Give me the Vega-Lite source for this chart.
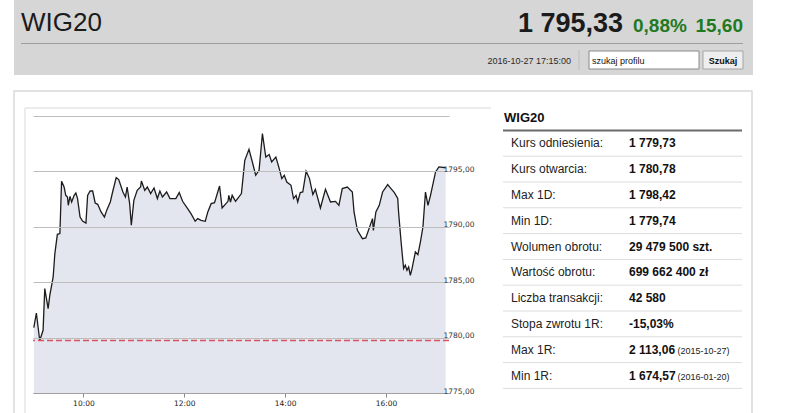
{
  "$schema": "https://vega.github.io/schema/vega-lite/v6.json",
  "background": "#ffffff",
  "padding": {"left": 13, "top": 0, "right": 0, "bottom": 0},
  "bounds": "flush",
  "spacing": 41,
  "config": {
    "view": {"stroke": null},
    "text": {"font": "Liberation Sans"}
  },
  "datasets": {
    "notowania": [
      {"czas": "2016-10-27T09:01:00", "kurs": 1780.90},
      {"czas": "2016-10-27T09:04:00", "kurs": 1782.22},
      {"czas": "2016-10-27T09:08:00", "kurs": 1779.74},
      {"czas": "2016-10-27T09:12:00", "kurs": 1780.66},
      {"czas": "2016-10-27T09:14:00", "kurs": 1784.42},
      {"czas": "2016-10-27T09:18:00", "kurs": 1782.62},
      {"czas": "2016-10-27T09:20:00", "kurs": 1783.82},
      {"czas": "2016-10-27T09:24:00", "kurs": 1785.47},
      {"czas": "2016-10-27T09:26:00", "kurs": 1787.58},
      {"czas": "2016-10-27T09:29:00", "kurs": 1789.32},
      {"czas": "2016-10-27T09:32:00", "kurs": 1789.39},
      {"czas": "2016-10-27T09:34:00", "kurs": 1794.11},
      {"czas": "2016-10-27T09:37:00", "kurs": 1793.59},
      {"czas": "2016-10-27T09:39:00", "kurs": 1792.84},
      {"czas": "2016-10-27T09:41:00", "kurs": 1792.69},
      {"czas": "2016-10-27T09:42:00", "kurs": 1791.94},
      {"czas": "2016-10-27T09:44:00", "kurs": 1792.75},
      {"czas": "2016-10-27T09:46:00", "kurs": 1792.24},
      {"czas": "2016-10-27T09:49:00", "kurs": 1792.84},
      {"czas": "2016-10-27T09:51:00", "kurs": 1793.05},
      {"czas": "2016-10-27T09:53:00", "kurs": 1792.55},
      {"czas": "2016-10-27T09:56:00", "kurs": 1790.88},
      {"czas": "2016-10-27T09:59:00", "kurs": 1790.52},
      {"czas": "2016-10-27T10:03:00", "kurs": 1790.34},
      {"czas": "2016-10-27T10:05:00", "kurs": 1792.84},
      {"czas": "2016-10-27T10:08:00", "kurs": 1793.23},
      {"czas": "2016-10-27T10:11:00", "kurs": 1793.23},
      {"czas": "2016-10-27T10:14:00", "kurs": 1792.15},
      {"czas": "2016-10-27T10:17:00", "kurs": 1792.03},
      {"czas": "2016-10-27T10:21:00", "kurs": 1791.34},
      {"czas": "2016-10-27T10:25:00", "kurs": 1790.88},
      {"czas": "2016-10-27T10:28:00", "kurs": 1791.55},
      {"czas": "2016-10-27T10:32:00", "kurs": 1792.24},
      {"czas": "2016-10-27T10:35:00", "kurs": 1793.23},
      {"czas": "2016-10-27T10:39:00", "kurs": 1794.44},
      {"czas": "2016-10-27T10:42:00", "kurs": 1794.26},
      {"czas": "2016-10-27T10:45:00", "kurs": 1793.59},
      {"czas": "2016-10-27T10:47:00", "kurs": 1793.14},
      {"czas": "2016-10-27T10:50:00", "kurs": 1792.69},
      {"czas": "2016-10-27T10:52:00", "kurs": 1793.59},
      {"czas": "2016-10-27T10:55:00", "kurs": 1792.09},
      {"czas": "2016-10-27T10:57:00", "kurs": 1790.14},
      {"czas": "2016-10-27T11:00:00", "kurs": 1792.39},
      {"czas": "2016-10-27T11:04:00", "kurs": 1793.29},
      {"czas": "2016-10-27T11:08:00", "kurs": 1793.59},
      {"czas": "2016-10-27T11:09:00", "kurs": 1794.13},
      {"czas": "2016-10-27T11:13:00", "kurs": 1793.29},
      {"czas": "2016-10-27T11:16:00", "kurs": 1793.59},
      {"czas": "2016-10-27T11:20:00", "kurs": 1793.00},
      {"czas": "2016-10-27T11:24:00", "kurs": 1793.50},
      {"czas": "2016-10-27T11:28:00", "kurs": 1792.55},
      {"czas": "2016-10-27T11:31:00", "kurs": 1793.23},
      {"czas": "2016-10-27T11:34:00", "kurs": 1792.69},
      {"czas": "2016-10-27T11:39:00", "kurs": 1793.14},
      {"czas": "2016-10-27T11:43:00", "kurs": 1792.55},
      {"czas": "2016-10-27T11:50:00", "kurs": 1792.55},
      {"czas": "2016-10-27T11:54:00", "kurs": 1793.09},
      {"czas": "2016-10-27T11:58:00", "kurs": 1792.30},
      {"czas": "2016-10-27T12:04:00", "kurs": 1791.64},
      {"czas": "2016-10-27T12:08:00", "kurs": 1791.19},
      {"czas": "2016-10-27T12:13:00", "kurs": 1790.50},
      {"czas": "2016-10-27T12:16:00", "kurs": 1790.74},
      {"czas": "2016-10-27T12:20:00", "kurs": 1790.59},
      {"czas": "2016-10-27T12:25:00", "kurs": 1790.50},
      {"czas": "2016-10-27T12:28:00", "kurs": 1791.34},
      {"czas": "2016-10-27T12:32:00", "kurs": 1792.09},
      {"czas": "2016-10-27T12:36:00", "kurs": 1792.18},
      {"czas": "2016-10-27T12:42:00", "kurs": 1793.68},
      {"czas": "2016-10-27T12:45:00", "kurs": 1791.70},
      {"czas": "2016-10-27T12:52:00", "kurs": 1792.30},
      {"czas": "2016-10-27T12:53:00", "kurs": 1792.84},
      {"czas": "2016-10-27T12:55:00", "kurs": 1792.24},
      {"czas": "2016-10-27T12:57:00", "kurs": 1792.84},
      {"czas": "2016-10-27T13:01:00", "kurs": 1792.30},
      {"czas": "2016-10-27T13:08:00", "kurs": 1793.00},
      {"czas": "2016-10-27T13:12:00", "kurs": 1796.00},
      {"czas": "2016-10-27T13:17:00", "kurs": 1796.99},
      {"czas": "2016-10-27T13:21:00", "kurs": 1795.85},
      {"czas": "2016-10-27T13:25:00", "kurs": 1794.65},
      {"czas": "2016-10-27T13:29:00", "kurs": 1795.10},
      {"czas": "2016-10-27T13:33:00", "kurs": 1798.42},
      {"czas": "2016-10-27T13:37:00", "kurs": 1796.30},
      {"czas": "2016-10-27T13:41:00", "kurs": 1796.52},
      {"czas": "2016-10-27T13:44:00", "kurs": 1795.85},
      {"czas": "2016-10-27T13:49:00", "kurs": 1796.30},
      {"czas": "2016-10-27T13:53:00", "kurs": 1795.25},
      {"czas": "2016-10-27T13:56:00", "kurs": 1794.35},
      {"czas": "2016-10-27T13:59:00", "kurs": 1794.65},
      {"czas": "2016-10-27T14:02:00", "kurs": 1794.04},
      {"czas": "2016-10-27T14:07:00", "kurs": 1793.75},
      {"czas": "2016-10-27T14:10:00", "kurs": 1792.55},
      {"czas": "2016-10-27T14:13:00", "kurs": 1792.84},
      {"czas": "2016-10-27T14:15:00", "kurs": 1792.24},
      {"czas": "2016-10-27T14:18:00", "kurs": 1793.09},
      {"czas": "2016-10-27T14:21:00", "kurs": 1793.14},
      {"czas": "2016-10-27T14:25:00", "kurs": 1795.01},
      {"czas": "2016-10-27T14:29:00", "kurs": 1794.35},
      {"czas": "2016-10-27T14:33:00", "kurs": 1792.91},
      {"czas": "2016-10-27T14:36:00", "kurs": 1793.38},
      {"czas": "2016-10-27T14:42:00", "kurs": 1791.70},
      {"czas": "2016-10-27T14:48:00", "kurs": 1793.38},
      {"czas": "2016-10-27T14:54:00", "kurs": 1792.24},
      {"czas": "2016-10-27T15:00:00", "kurs": 1792.30},
      {"czas": "2016-10-27T15:04:00", "kurs": 1791.94},
      {"czas": "2016-10-27T15:08:00", "kurs": 1793.45},
      {"czas": "2016-10-27T15:14:00", "kurs": 1793.59},
      {"czas": "2016-10-27T15:20:00", "kurs": 1793.14},
      {"czas": "2016-10-27T15:22:00", "kurs": 1791.34},
      {"czas": "2016-10-27T15:26:00", "kurs": 1789.68},
      {"czas": "2016-10-27T15:32:00", "kurs": 1788.93},
      {"czas": "2016-10-27T15:36:00", "kurs": 1788.99},
      {"czas": "2016-10-27T15:44:00", "kurs": 1790.74},
      {"czas": "2016-10-27T15:45:00", "kurs": 1789.68},
      {"czas": "2016-10-27T15:48:00", "kurs": 1791.34},
      {"czas": "2016-10-27T15:52:00", "kurs": 1791.94},
      {"czas": "2016-10-27T15:56:00", "kurs": 1793.14},
      {"czas": "2016-10-27T16:00:00", "kurs": 1793.59},
      {"czas": "2016-10-27T16:02:00", "kurs": 1793.81},
      {"czas": "2016-10-27T16:06:00", "kurs": 1793.45},
      {"czas": "2016-10-27T16:10:00", "kurs": 1793.09},
      {"czas": "2016-10-27T16:14:00", "kurs": 1792.55},
      {"czas": "2016-10-27T16:15:00", "kurs": 1791.34},
      {"czas": "2016-10-27T16:18:00", "kurs": 1788.63},
      {"czas": "2016-10-27T16:21:00", "kurs": 1786.23},
      {"czas": "2016-10-27T16:23:00", "kurs": 1786.53},
      {"czas": "2016-10-27T16:25:00", "kurs": 1786.07},
      {"czas": "2016-10-27T16:27:00", "kurs": 1786.37},
      {"czas": "2016-10-27T16:29:00", "kurs": 1785.62},
      {"czas": "2016-10-27T16:31:00", "kurs": 1786.23},
      {"czas": "2016-10-27T16:35:00", "kurs": 1787.73},
      {"czas": "2016-10-27T16:38:00", "kurs": 1787.49},
      {"czas": "2016-10-27T16:41:00", "kurs": 1788.63},
      {"czas": "2016-10-27T16:44:00", "kurs": 1789.98},
      {"czas": "2016-10-27T16:47:00", "kurs": 1793.14},
      {"czas": "2016-10-27T16:50:00", "kurs": 1791.94},
      {"czas": "2016-10-27T16:53:00", "kurs": 1792.84},
      {"czas": "2016-10-27T16:59:00", "kurs": 1794.95},
      {"czas": "2016-10-27T17:03:00", "kurs": 1795.40},
      {"czas": "2016-10-27T17:11:00", "kurs": 1795.33}
    ],
    "tabela": [
      {"row": 0, "label": "WIG20", "value": "", "note": ""},
      {"row": 1, "label": "Kurs odniesienia:", "value": "1 779,73", "note": ""},
      {"row": 2, "label": "Kurs otwarcia:", "value": "1 780,78", "note": ""},
      {"row": 3, "label": "Max 1D:", "value": "1 798,42", "note": ""},
      {"row": 4, "label": "Min 1D:", "value": "1 779,74", "note": ""},
      {"row": 5, "label": "Wolumen obrotu:", "value": "29 479 500 szt.", "note": ""},
      {"row": 6, "label": "Wartość obrotu:", "value": "699 662 400 zł", "note": ""},
      {"row": 7, "label": "Liczba transakcji:", "value": "42 580", "note": ""},
      {"row": 8, "label": "Stopa zwrotu 1R:", "value": "-15,03%", "note": ""},
      {"row": 9, "label": "Max 1R:", "value": "2 113,06", "note": "(2015-10-27)"},
      {"row": 10, "label": "Min 1R:", "value": "1 674,57", "note": "(2016-01-20)"}
    ]
  },
  "vconcat": [
    {
      "width": 739,
      "height": 75,
      "layer": [
        {
          "data": {"values": [{"element": "tlo"}]},
          "mark": {"type": "rect", "color": "#d6d6d6"},
          "encoding": {
            "x": {"datum": 13, "type": "quantitative", "scale": {"domain": [13, 752], "range": [-19, 720], "zero": false, "nice": false}, "axis": null},
            "x2": {"datum": 752},
            "y": {"datum": 0, "type": "quantitative", "scale": {"domain": [0, 440], "range": [0, 440], "zero": false, "nice": false}, "axis": null},
            "y2": {"datum": 75}
          }
        },
        {
          "data": {"values": [{"element": "ramka"}]},
          "mark": {"type": "rect", "fill": "transparent", "stroke": "#d9d9d9", "strokeWidth": 1.5},
          "encoding": {
            "x": {"datum": 13, "type": "quantitative", "axis": null},
            "x2": {"datum": 751},
            "y": {"datum": 91, "type": "quantitative", "axis": null},
            "y2": {"datum": 440}
          }
        },
        {
          "data": {"values": [{"element": "ramka wykresu"}]},
          "mark": {"type": "rule", "color": "#e6e6e6", "strokeWidth": 1.5},
          "encoding": {
            "x": {"datum": 24, "type": "quantitative", "axis": null},
            "x2": {"datum": 490},
            "y": {"datum": 108, "type": "quantitative", "axis": null}
          }
        },
        {
          "data": {"values": [{"element": "ramka wykresu"}]},
          "mark": {"type": "rule", "color": "#e6e6e6", "strokeWidth": 1.5},
          "encoding": {
            "x": {"datum": 24, "type": "quantitative", "axis": null},
            "y": {"datum": 108, "type": "quantitative", "axis": null},
            "y2": {"datum": 440}
          }
        },
        {
          "data": {"values": [{"element": "linia"}]},
          "mark": {"type": "rule", "color": "#9e9e9e", "strokeWidth": 1},
          "encoding": {
            "x": {"datum": 20, "type": "quantitative", "axis": null},
            "x2": {"datum": 742},
            "y": {"datum": 43.5, "type": "quantitative", "axis": null}
          }
        },
        {
          "data": {"values": [{"text": "WIG20"}]},
          "mark": {"type": "text", "align": "left", "baseline": "alphabetic", "fontSize": 26, "color": "#1b1b1b"},
          "encoding": {
            "x": {"datum": 20, "type": "quantitative", "axis": null},
            "y": {"datum": 31, "type": "quantitative", "axis": null},
            "text": {"field": "text"}
          }
        },
        {
          "data": {"values": [{"text": "1 795,33"}]},
          "mark": {"type": "text", "align": "right", "baseline": "alphabetic", "fontSize": 27, "fontWeight": "bold", "color": "#1b1b1b"},
          "encoding": {
            "x": {"datum": 622, "type": "quantitative", "axis": null},
            "y": {"datum": 31.5, "type": "quantitative", "axis": null},
            "text": {"field": "text"}
          }
        },
        {
          "data": {"values": [{"text": "0,88%"}]},
          "mark": {"type": "text", "align": "left", "baseline": "alphabetic", "fontSize": 19, "fontWeight": "bold", "color": "#1f7a1f"},
          "encoding": {
            "x": {"datum": 632, "type": "quantitative", "axis": null},
            "y": {"datum": 31.5, "type": "quantitative", "axis": null},
            "text": {"field": "text"}
          }
        },
        {
          "data": {"values": [{"text": "15,60"}]},
          "mark": {"type": "text", "align": "right", "baseline": "alphabetic", "fontSize": 19, "fontWeight": "bold", "color": "#1f7a1f"},
          "encoding": {
            "x": {"datum": 742, "type": "quantitative", "axis": null},
            "y": {"datum": 31.5, "type": "quantitative", "axis": null},
            "text": {"field": "text"}
          }
        },
        {
          "data": {"values": [{"text": "2016-10-27 17:15:00"}]},
          "mark": {"type": "text", "align": "right", "baseline": "alphabetic", "fontSize": 9, "color": "#2a2a2a"},
          "encoding": {
            "x": {"datum": 570, "type": "quantitative", "axis": null},
            "y": {"datum": 64, "type": "quantitative", "axis": null},
            "text": {"field": "text"}
          }
        },
        {
          "data": {"values": [{"element": "separator"}]},
          "mark": {"type": "rule", "color": "#bdbdbd", "strokeWidth": 1},
          "encoding": {
            "x": {"datum": 578, "type": "quantitative", "axis": null},
            "y": {"datum": 50, "type": "quantitative", "axis": null},
            "y2": {"datum": 70}
          }
        },
        {
          "data": {"values": [{"element": "pole"}]},
          "mark": {"type": "rect", "fill": "#ffffff", "stroke": "#8a8a8a", "strokeWidth": 1},
          "encoding": {
            "x": {"datum": 588, "type": "quantitative", "axis": null},
            "x2": {"datum": 698},
            "y": {"datum": 51, "type": "quantitative", "axis": null},
            "y2": {"datum": 69}
          }
        },
        {
          "data": {"values": [{"text": "szukaj profilu"}]},
          "mark": {"type": "text", "align": "left", "baseline": "alphabetic", "fontSize": 9, "color": "#111111"},
          "encoding": {
            "x": {"datum": 591, "type": "quantitative", "axis": null},
            "y": {"datum": 64, "type": "quantitative", "axis": null},
            "text": {"field": "text"}
          }
        },
        {
          "data": {"values": [{"element": "przycisk"}]},
          "mark": {"type": "rect", "fill": "#eeeeee", "stroke": "#a5a5a5", "strokeWidth": 1},
          "encoding": {
            "x": {"datum": 702, "type": "quantitative", "axis": null},
            "x2": {"datum": 742},
            "y": {"datum": 51, "type": "quantitative", "axis": null},
            "y2": {"datum": 69}
          }
        },
        {
          "data": {"values": [{"text": "Szukaj"}]},
          "mark": {"type": "text", "align": "center", "baseline": "alphabetic", "fontSize": 9, "fontWeight": "bold", "color": "#111111"},
          "encoding": {
            "x": {"datum": 722, "type": "quantitative", "axis": null},
            "y": {"datum": 64, "type": "quantitative", "axis": null},
            "text": {"field": "text"}
          }
        }
      ]
    },
    {
      "bounds": "flush",
      "spacing": 54,
      "hconcat": [
        {
          "width": 416,
          "height": 277,
          "data": {"name": "notowania"},
          "layer": [
            {
              "mark": {"type": "area", "color": "#e3e6ee"},
              "encoding": {
                "x": {
                  "field": "czas",
                  "type": "temporal",
                  "scale": {"domain": [
                    {"year": 2016, "month": 10, "date": 27, "hours": 9, "minutes": 0},
                    {"year": 2016, "month": 10, "date": 27, "hours": 17, "minutes": 15}
                  ]},
                  "axis": {
                    "title": null,
                    "values": [
                      {"year": 2016, "month": 10, "date": 27, "hours": 10},
                      {"year": 2016, "month": 10, "date": 27, "hours": 12},
                      {"year": 2016, "month": 10, "date": 27, "hours": 14},
                      {"year": 2016, "month": 10, "date": 27, "hours": 16}
                    ],
                    "format": "%H:%M",
                    "grid": false,
                    "domainColor": "#a0a0a0",
                    "tickColor": "#8a8a8a",
                    "tickSize": 4,
                    "labelFont": "DejaVu Sans",
                    "labelFontSize": 7.5,
                    "labelColor": "#222222",
                    "labelPadding": 2,
                    "labelFlush": false,
                    "zindex": 1
                  }
                },
                "y": {
                  "field": "kurs",
                  "type": "quantitative",
                  "scale": {"domain": [1775, 1800], "zero": false, "nice": false},
                  "axis": {
                    "title": null,
                    "orient": "right",
                    "values": [1775, 1780, 1785, 1790, 1795, 1800],
                    "labelExpr": "datum.value >= 1800 ? '' : replace(format(datum.value, '.2f'), '.', ',')",
                    "gridColor": "#bdbdbd",
                    "domain": false,
                    "ticks": false,
                    "labelAlign": "left",
                    "labelBaseline": "alphabetic",
                    "labelPadding": -6,
                    "labelFont": "DejaVu Sans",
                    "labelFontSize": 7.5,
                    "labelColor": "#333333",
                    "labelFlush": false,
                    "labelOverlap": false,
                    "zindex": 1
                  }
                },
                "y2": {"datum": 1775}
              }
            },
            {
              "mark": {"type": "line", "color": "#1c1c1c", "strokeWidth": 1.3},
              "encoding": {
                "x": {"field": "czas", "type": "temporal"},
                "y": {"field": "kurs", "type": "quantitative"}
              }
            },
            {
              "data": {"values": [{"kurs_odniesienia": 1779.73}]},
              "mark": {"type": "rule", "color": "#d9545e", "strokeDash": [6, 3], "strokeWidth": 1.5},
              "encoding": {
                "y": {"field": "kurs_odniesienia", "type": "quantitative"}
              }
            }
          ]
        },
        {
          "width": 239,
          "height": 277,
          "data": {"name": "tabela"},
          "layer": [
            {
              "mark": {"type": "rule"},
              "encoding": {
                "y": {
                  "field": "row",
                  "type": "ordinal",
                  "bandPosition": 1,
                  "scale": {"type": "band", "domain": [0, 1, 2, 3, 4, 5, 6, 7, 8, 9, 10], "range": [-11.4, 272.4], "paddingInner": 0, "paddingOuter": 0},
                  "axis": null
                },
                "color": {"condition": {"test": "datum.row == 0", "value": "#6b6b6b"}, "value": "#dcdcdc"},
                "strokeWidth": {"condition": {"test": "datum.row == 0", "value": 2}, "value": 1}
              }
            },
            {
              "transform": [{"filter": "datum.row == 0"}],
              "mark": {"type": "text", "align": "left", "baseline": "middle", "fontSize": 13, "fontWeight": "bold", "color": "#111111", "dx": -7},
              "encoding": {
                "x": {"datum": "label", "type": "nominal", "scale": {"type": "point", "domain": ["label", "value"], "range": [8, 126], "padding": 0}, "axis": null},
                "y": {"field": "row", "type": "ordinal", "axis": null},
                "text": {"field": "label"}
              }
            },
            {
              "transform": [{"filter": "datum.row > 0"}],
              "mark": {"type": "text", "align": "left", "baseline": "middle", "fontSize": 12, "color": "#222222"},
              "encoding": {
                "x": {"datum": "label", "type": "nominal", "axis": null},
                "y": {"field": "row", "type": "ordinal", "axis": null},
                "text": {"field": "label"}
              }
            },
            {
              "transform": [{"filter": "datum.row > 0"}],
              "mark": {"type": "text", "align": "left", "baseline": "middle", "fontSize": 12, "fontWeight": "bold", "color": "#111111"},
              "encoding": {
                "x": {"datum": "value", "type": "nominal", "axis": null},
                "y": {"field": "row", "type": "ordinal", "axis": null},
                "text": {"field": "value"}
              }
            },
            {
              "transform": [{"filter": "datum.note != ''"}],
              "mark": {"type": "text", "align": "left", "baseline": "middle", "fontSize": 9, "color": "#222222", "dx": 48.5, "dy": 1},
              "encoding": {
                "x": {"datum": "value", "type": "nominal", "axis": null},
                "y": {"field": "row", "type": "ordinal", "axis": null},
                "text": {"field": "note"}
              }
            }
          ]
        }
      ]
    }
  ]
}
